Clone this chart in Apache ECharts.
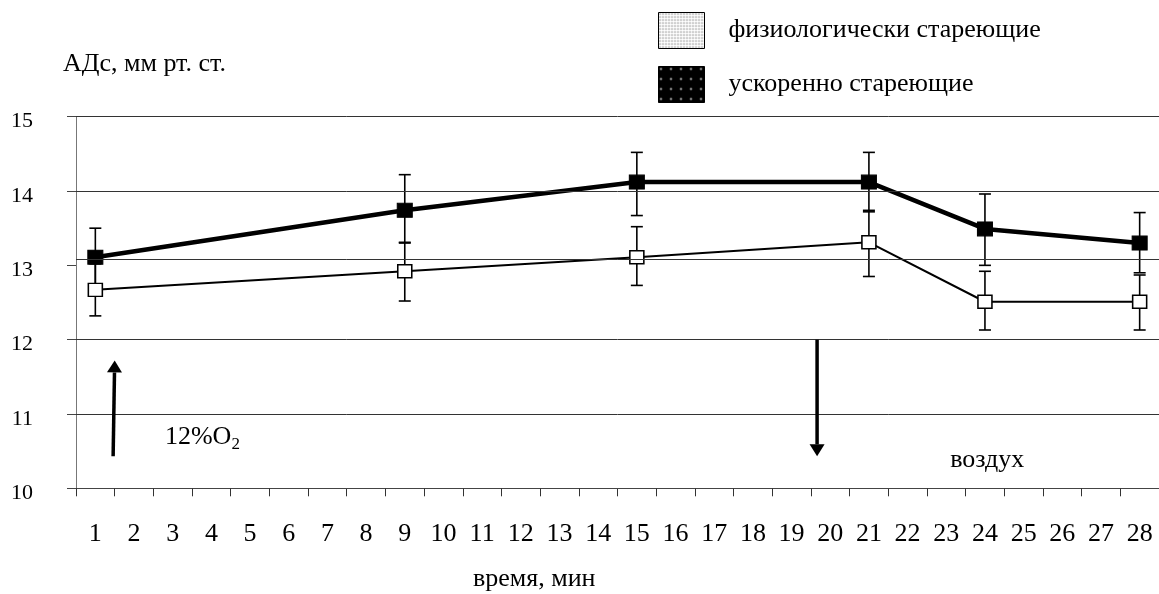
<!DOCTYPE html>
<html><head><meta charset="utf-8">
<script src="https://cdn.jsdelivr.net/npm/echarts@6/dist/echarts.min.js"></script>
<style>html,body{margin:0;padding:0;background:#fff}#c{width:1159px;height:594px}</style>
</head><body><div id="c"></div>
<script>
// ---- data ----
const categories = ['1','2','3','4','5','6','7','8','9','10','11','12','13','14','15','16','17','18','19','20','21','22','23','24','25','26','27','28'];
const sampleMinutes = ['1','9','15','21','24','28'];
const yTicks = [10, 11, 12, 13, 14, 15];
const gridValues = [11, 12, 13.08, 14, 15];

const nameNormal = 'физиологически стареющие';
const normalMean = [12.67, 12.92, 13.11, 13.31, 12.51, 12.51];
const normalHigh = [13.02, 13.31, 13.52, 13.74, 12.92, 12.87];
const normalLow  = [12.32, 12.52, 12.73, 12.85, 12.13, 12.13];

const nameFast = 'ускоренно стареющие';
const fastMean = [13.11, 13.74, 14.12, 14.12, 13.49, 13.30];
const fastHigh = [13.50, 14.22, 14.52, 14.52, 13.96, 13.71];
const fastLow  = [12.72, 13.30, 13.67, 13.72, 13.00, 12.90];

// annotations (x in category-index units, y in axis units)
const arrows = [
  [0.46, 10.43, 0.50, 11.72],
  [18.66, 12.0, 18.66, 10.43]
];
const notes = [
  {x: 1.80, y: 10.69, main: '12%O', sub: '2'},
  {x: 22.10, y: 10.38, main: 'воздух', sub: ''}
];

// ---- helpers ----
const FONT = 'Liberation Serif';
function makePattern(bg, dot, step, r, stagger) {
  const c = document.createElement('canvas');
  c.width = step * 2; c.height = step * 2;
  const g = c.getContext('2d');
  g.fillStyle = bg; g.fillRect(0, 0, c.width, c.height);
  g.fillStyle = dot;
  const pts = stagger ? [[step/2, step/2], [step*1.5, step*1.5], [step*1.5, step/2], [step/2, step*1.5]] : [[step/2, step/2]];
  pts.forEach(p => { g.beginPath(); g.arc(p[0], p[1], r, 0, Math.PI * 2); g.fill(); });
  return {image: c, repeat: 'repeat'};
}
const patLight = makePattern('#ffffff', '#7a7a7a', 3, 0.8, true);
const patDark = makePattern('#000000', '#ffffff', 5, 0.9, false);
const patMarkLight = makePattern('#ffffff', '#9a9a9a', 4, 0.7, false);
const patMarkDark = makePattern('#000000', '#cfcfcf', 5, 0.8, false);

const measure = document.createElement('canvas').getContext('2d');
function textW(t, size) { measure.font = size + 'px "' + FONT + '"'; return measure.measureText(t).width; }

const pair = (xs, ys) => xs.map((x, i) => [x, ys[i]]);
const bars = (lo, hi) => sampleMinutes.map((m, i) => [m, lo[i], hi[i]]);

function errRender(params, api) {
  const x = api.value(0);
  const p0 = api.coord([x, api.value(1)]);
  const p1 = api.coord([x, api.value(2)]);
  const w = 6;
  const st = {stroke: '#000', lineWidth: 1.6};
  return {type: 'group', children: [
    {type: 'line', shape: {x1: p0[0], y1: p0[1], x2: p1[0], y2: p1[1]}, style: st},
    {type: 'line', shape: {x1: p0[0] - w, y1: p0[1], x2: p0[0] + w, y2: p0[1]}, style: st},
    {type: 'line', shape: {x1: p1[0] - w, y1: p1[1], x2: p1[0] + w, y2: p1[1]}, style: st}
  ]};
}

function arrowRender(params, api) {
  const a = api.coord([api.value(0), api.value(1)]);
  const b = api.coord([api.value(2), api.value(3)]);
  const dx = b[0] - a[0], dy = b[1] - a[1];
  const len = Math.sqrt(dx * dx + dy * dy);
  const ux = dx / len, uy = dy / len;
  const hl = 12, hw = 7.5;
  const bx = b[0] - ux * hl, by = b[1] - uy * hl;
  return {type: 'group', children: [
    {type: 'line', shape: {x1: a[0], y1: a[1], x2: bx, y2: by}, style: {stroke: '#000', lineWidth: 3.5}},
    {type: 'polygon', shape: {points: [[b[0], b[1]], [bx - uy * hw, by + ux * hw], [bx + uy * hw, by - ux * hw]]}, style: {fill: '#000'}}
  ]};
}

function noteRender(params, api) {
  const n = notes[params.dataIndex];
  const p = api.coord([api.value(0), api.value(1)]);
  const children = [
    {type: 'text', x: p[0], y: p[1], style: {text: n.main, fontFamily: FONT, fontSize: 26, fill: '#000', align: 'left', verticalAlign: 'middle'}}
  ];
  if (n.sub) {
    children.push({type: 'text', x: p[0] + textW(n.main, 26), y: p[1] + 8, style: {text: n.sub, fontFamily: FONT, fontSize: 17, fill: '#000', align: 'left', verticalAlign: 'middle'}});
  }
  return {type: 'group', children};
}

const chart = echarts.init(document.getElementById('c'), null, {renderer: 'canvas'});
chart.setOption({
  animation: false,
  backgroundColor: '#fff',
  textStyle: {fontFamily: FONT},
  title: [
    {text: 'АДс, мм рт. ст.', left: 63, top: 51, padding: 0, textStyle: {fontFamily: FONT, fontSize: 26, fontWeight: 'normal', color: '#000'}},
    {text: 'время, мин', left: 473, top: 566, padding: 0, textStyle: {fontFamily: FONT, fontSize: 26, fontWeight: 'normal', color: '#000'}}
  ],
  legend: {
    orient: 'vertical', left: 658, top: 12, padding: 0, itemWidth: 46, itemHeight: 36, itemGap: 17,
    icon: 'rect', selectedMode: false,
    textStyle: {fontFamily: FONT, fontSize: 26, color: '#000', padding: [3, 0, 0, 19]},
    data: [
      {name: nameNormal, itemStyle: {color: patLight, borderColor: '#000', borderWidth: 1}},
      {name: nameFast, itemStyle: {color: patDark, borderColor: '#000', borderWidth: 1}}
    ]
  },
  grid: {left: 76, top: 116.7, width: 1085.8, height: 371.6, containLabel: false},
  xAxis: [
    {type: 'category', data: categories, boundaryGap: true,
      axisLine: {show: true, onZero: false, lineStyle: {color: '#444', width: 1}},
      axisTick: {show: true, length: 8, interval: 0, lineStyle: {color: '#333', width: 1}},
      axisLabel: {interval: 0, margin: 33, fontFamily: FONT, fontSize: 26, color: '#000'},
      splitLine: {show: false}},
    {type: 'value', min: -0.5, max: 27.5, show: false}
  ],
  yAxis: {type: 'value', min: yTicks[0], max: yTicks[yTicks.length - 1], interval: 1,
    axisLine: {show: true, onZero: false, lineStyle: {color: '#777', width: 1}},
    axisTick: {show: true, length: 9, lineStyle: {color: '#444', width: 1}},
    axisLabel: {margin: 43, fontFamily: FONT, fontSize: 22, color: '#000', verticalAlign: 'top', lineHeight: 10},
    splitLine: {show: false}},
  series: [
    {type: 'line', name: 'grid', data: [], z: 1, silent: true,
      markLine: {silent: true, symbol: 'none', label: {show: false},
        lineStyle: {color: '#333', width: 1, type: 'solid'},
        data: gridValues.map(v => ({yAxis: v}))}},
    {type: 'custom', name: 'errNormal', renderItem: errRender, data: bars(normalLow, normalHigh), z: 2, silent: true},
    {type: 'custom', name: 'errFast', renderItem: errRender, data: bars(fastLow, fastHigh), z: 2, silent: true},
    {type: 'line', name: nameNormal, data: pair(sampleMinutes, normalMean), z: 3,
      symbol: 'rect', symbolSize: [14, 13], showAllSymbol: true,
      lineStyle: {color: '#000', width: 2},
      itemStyle: {color: patMarkLight, borderColor: '#000', borderWidth: 1.5}},
    {type: 'line', name: nameFast, data: pair(sampleMinutes, fastMean), z: 4,
      symbol: 'rect', symbolSize: [15, 14], showAllSymbol: true,
      lineStyle: {color: '#000', width: 4.5},
      itemStyle: {color: patMarkDark, borderColor: '#000', borderWidth: 1}},
    {type: 'custom', name: 'arrows', xAxisIndex: 1, yAxisIndex: 0, renderItem: arrowRender, data: arrows, z: 5, silent: true},
    {type: 'custom', name: 'notes', xAxisIndex: 1, yAxisIndex: 0, renderItem: noteRender, data: notes.map(n => [n.x, n.y]), z: 5, silent: true}
  ]
});
</script></body></html>
